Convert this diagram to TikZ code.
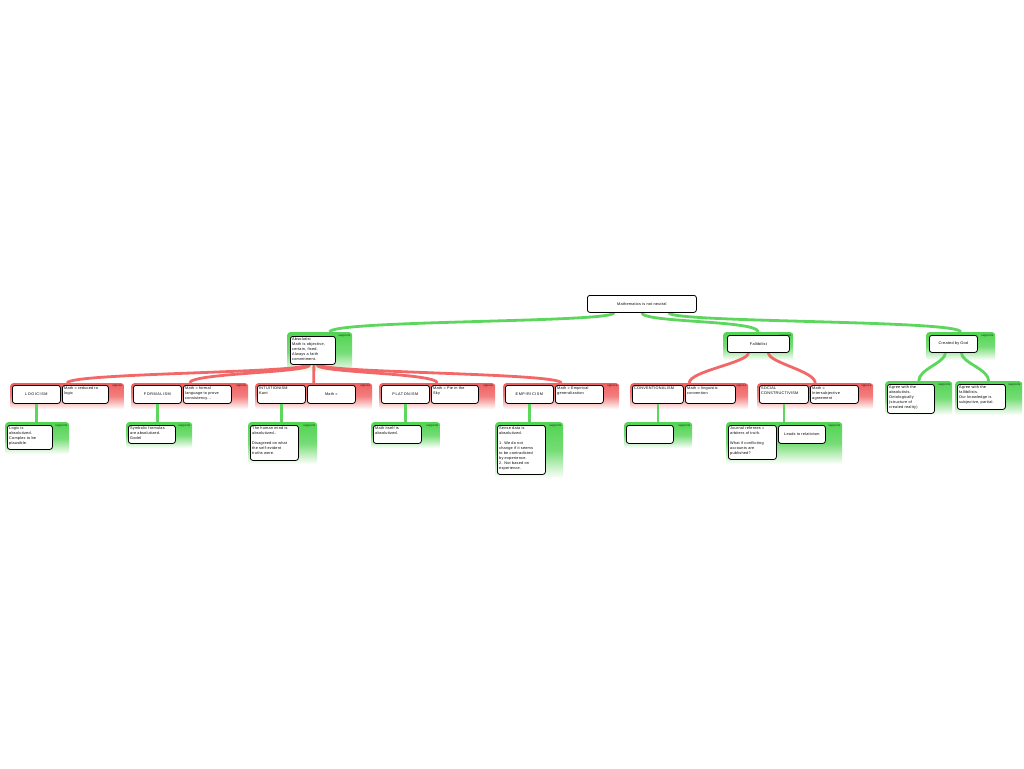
\documentclass[tikz,border=0pt]{standalone}
\usepackage{fontspec}
\setmainfont[LetterSpace=6]{Liberation Sans}
\newfontfamily\capsfont[LetterSpace=14]{Liberation Sans}
\definecolor{sup}{RGB}{82,212,82}
\definecolor{opp}{RGB}{240,96,96}
\definecolor{supc}{RGB}{92,214,92}
\definecolor{oppc}{RGB}{242,104,104}
\pgfdeclarelayer{conts}
\pgfdeclarelayer{links}
\pgfsetlayers{conts,links,main}
\tikzset{
  bx/.style={draw=black, line width=0.8pt, fill=white, rounded corners=2.5pt, inner sep=1.8pt,
    anchor=north west, font=\fontsize{3.8}{5}\selectfont},
  supcont/.style={anchor=north west, rounded corners=3pt, top color=sup, bottom color=white, middle color=sup!80, inner sep=0pt},
  oppcont/.style={anchor=north west, rounded corners=3pt, top color=opp, bottom color=white, middle color=opp!80, inner sep=0pt},
  tag/.style={anchor=north east, font=\fontsize{2.8}{3.2}\selectfont, inner sep=0.4pt, text=black!90},
  gcon/.style={draw=supc, line width=2.8pt},
  rcon/.style={draw=oppc, line width=2.8pt},
}
\newcommand\tbox[6]{\node[bx, minimum width=#4pt, minimum height=#5pt] (#1) at (#2,#3)
  {\parbox[c][\dimexpr#5pt-3.6pt][t]{\dimexpr#4pt-3.6pt}{\raggedright #6}};}
\newcommand\cbox[6]{\node[bx, minimum width=#4pt, minimum height=#5pt] (#1) at (#2,#3)
  {\parbox[c][\dimexpr#5pt-3.6pt][c]{\dimexpr#4pt-3.6pt}{\centering #6}};}
\newcommand\scont[5]{\begin{pgfonlayer}{conts}\node[supcont, minimum width=#4pt, minimum height=#5pt] (#1) at (#2,#3) {};\end{pgfonlayer}
  \node[tag] (#1t) at ([xshift=-1.5pt,yshift=-1.8pt]#1.north east) {supports};}
\newcommand\ocont[5]{\begin{pgfonlayer}{conts}\node[oppcont, minimum width=#4pt, minimum height=#5pt] (#1) at (#2,#3) {};\end{pgfonlayer}
  \node[tag] (#1t) at ([xshift=-1.5pt,yshift=-1.8pt]#1.north east) {oppose};}
\begin{document}
\begin{tikzpicture}[x=1pt,y=-1pt]
\begin{pgfonlayer}{conts}
\fill[white] (0,0) rectangle (1024,768);
\end{pgfonlayer}
\useasboundingbox (0,0) rectangle (1024,768);

% root
\cbox{root}{587}{295}{109}{17}{Mathematics is not neutral}

% level 1
\scont{absC}{287}{332}{65}{40}
\tbox{abs}{290}{336}{45}{28}{Absolutist\\Math is objective,\\certain, fixed.\\Always a faith\\commitment.}
\scont{falC}{723}{332}{70}{28}
\cbox{fal}{727}{335}{62}{17}{Fallibilist}
\scont{godC}{926}{332}{69}{28}
\cbox{god}{929}{335}{48}{17}{Created by God}

% level 2 (opposes)
\ocont{logC}{10}{383}{114}{26}
\cbox{log}{12}{385}{48}{18}{\capsfont LOGICISM}
\tbox{logM}{62}{385}{46}{18}{Math = reduced to\\logic}
\ocont{forC}{131}{383}{117}{26}
\cbox{for}{133}{385}{48}{18}{\capsfont FORMALISM}
\tbox{forM}{183}{385}{48}{18}{Math = formal\\language to prove\\consistency...}
\ocont{intC}{255}{383}{117}{26}
\tbox{int}{257}{385}{48}{18}{INTUITIONISM\\Kant}
\cbox{intM}{307}{385}{48}{18}{Math =}
\ocont{plaC}{379}{383}{116}{26}
\cbox{pla}{381}{385}{48}{18}{\capsfont PLATONISM}
\tbox{plaM}{431}{385}{47}{18}{Math = Pie in the\\Sky}
\ocont{empC}{503}{383}{116}{26}
\cbox{emp}{505}{385}{48}{18}{\capsfont EMPIRICISM}
\tbox{empM}{555}{385}{48}{18}{Math = Empirical\\generalization}
\ocont{conC}{630}{383}{118}{26}
\tbox{con}{632}{385}{51}{18}{CONVENTIONALISM}
\tbox{conM}{685}{385}{50}{18}{Math = linguistic\\convention}
\ocont{socC}{757}{383}{116}{26}
\tbox{soc}{759}{385}{49}{18}{SOCIAL\\CONSTRUCTIVISM}
\tbox{socM}{810}{385}{48}{18}{Math =\\Intersubjective\\agreement}

% level 2 (supports under God)
\scont{agA}{885}{381}{67}{34}
\tbox{ag1}{887}{384}{47}{29}{Agree with the\\absolutists.\\Ontologically\\(structure of\\created reality)}
\scont{agB}{955}{381}{67}{34}
\tbox{ag2}{957}{384}{48}{25}{Agree with the\\fallibilists.\\Our knowledge is\\subjective, partial.}

% level 3 (supports)
\scont{logS}{5}{422}{64}{32}
\tbox{logs}{7}{425}{45}{24}{Logic is\\absolutized.\\Complex to be\\plausible.}
\scont{forS}{126}{422}{66}{26}
\tbox{fors}{128}{425}{47}{18}{Symbolic formulas\\are absolutized.\\Godel}
\scont{intS}{248}{422}{69}{42}
\tbox{ints}{250}{425}{48}{35}{The human mind is\\absolutized..\\[5pt]Disagreed on what\\the self-evident\\truths were.}
\scont{plaS}{371}{422}{69}{26}
\tbox{plas}{373}{425}{48}{18}{Math itself is\\absolutized.}
\scont{empS}{495}{422}{68}{56}
\tbox{emps}{497}{425}{48}{49}{Sense data is\\absolutized.\\[5pt]1. We do not\\change if it seems\\to be contradicted\\by experience.\\2. Not based on\\experience.}
\scont{conS}{624}{422}{68}{26}
\tbox{cons}{626}{425}{47}{18}{}
\scont{socS}{726}{422}{116}{42}
\tbox{socs}{728}{425}{48}{34}{Journal referees =\\arbiters of truth.\\[5pt]What if conflicting\\accounts are\\published?}
\cbox{socs2}{778}{425}{47}{18}{Leads to relativism}

% connectors
\begin{pgfonlayer}{links}
\draw[gcon] ([xshift=-28pt]root.south) .. controls +(0,10) and +(0,-12) .. ([xshift=10pt]absC.north);
\draw[gcon] (root.south) .. controls +(0,10) and +(0,-12) .. (falC.north);
\draw[gcon] ([xshift=27pt]root.south) .. controls +(0,10) and +(0,-12) .. (godC.north);

\draw[rcon] ([xshift=-6pt]abs.south) .. controls +(0,8) and +(0,-10) .. (logC.north);
\draw[rcon] ([xshift=-3pt]abs.south) .. controls +(0,8) and +(0,-10) .. (forC.north);
\draw[rcon] ([xshift=1pt]abs.south) .. controls +(0,8) and +(0,-10) .. (intC.north);
\draw[rcon] ([xshift=4pt]abs.south) .. controls +(0,8) and +(0,-10) .. (plaC.north);
\draw[rcon] ([xshift=7pt]abs.south) .. controls +(0,8) and +(0,-10) .. (empC.north);

\draw[rcon] ([xshift=-10pt]fal.south) .. controls +(0,10) and +(0,-12) .. (conC.north);
\draw[rcon] ([xshift=10pt]fal.south) .. controls +(0,10) and +(0,-12) .. (socC.north);

\draw[gcon] ([xshift=-8pt]god.south) .. controls +(0,10) and +(0,-12) .. (agA.north);
\draw[gcon] ([xshift=8pt]god.south) .. controls +(0,10) and +(0,-12) .. (agB.north);

\draw[gcon] (log.south) -- (log.south |- logS.north);
\draw[gcon] (for.south) -- (for.south |- forS.north);
\draw[gcon] (int.south) -- (int.south |- intS.north);
\draw[gcon] (pla.south) -- (pla.south |- plaS.north);
\draw[gcon] (emp.south) -- (emp.south |- empS.north);
\draw[gcon] (con.south) -- (con.south |- conS.north);
\draw[gcon] (soc.south) -- (soc.south |- socS.north);
\end{pgfonlayer}
\end{tikzpicture}
\end{document}
